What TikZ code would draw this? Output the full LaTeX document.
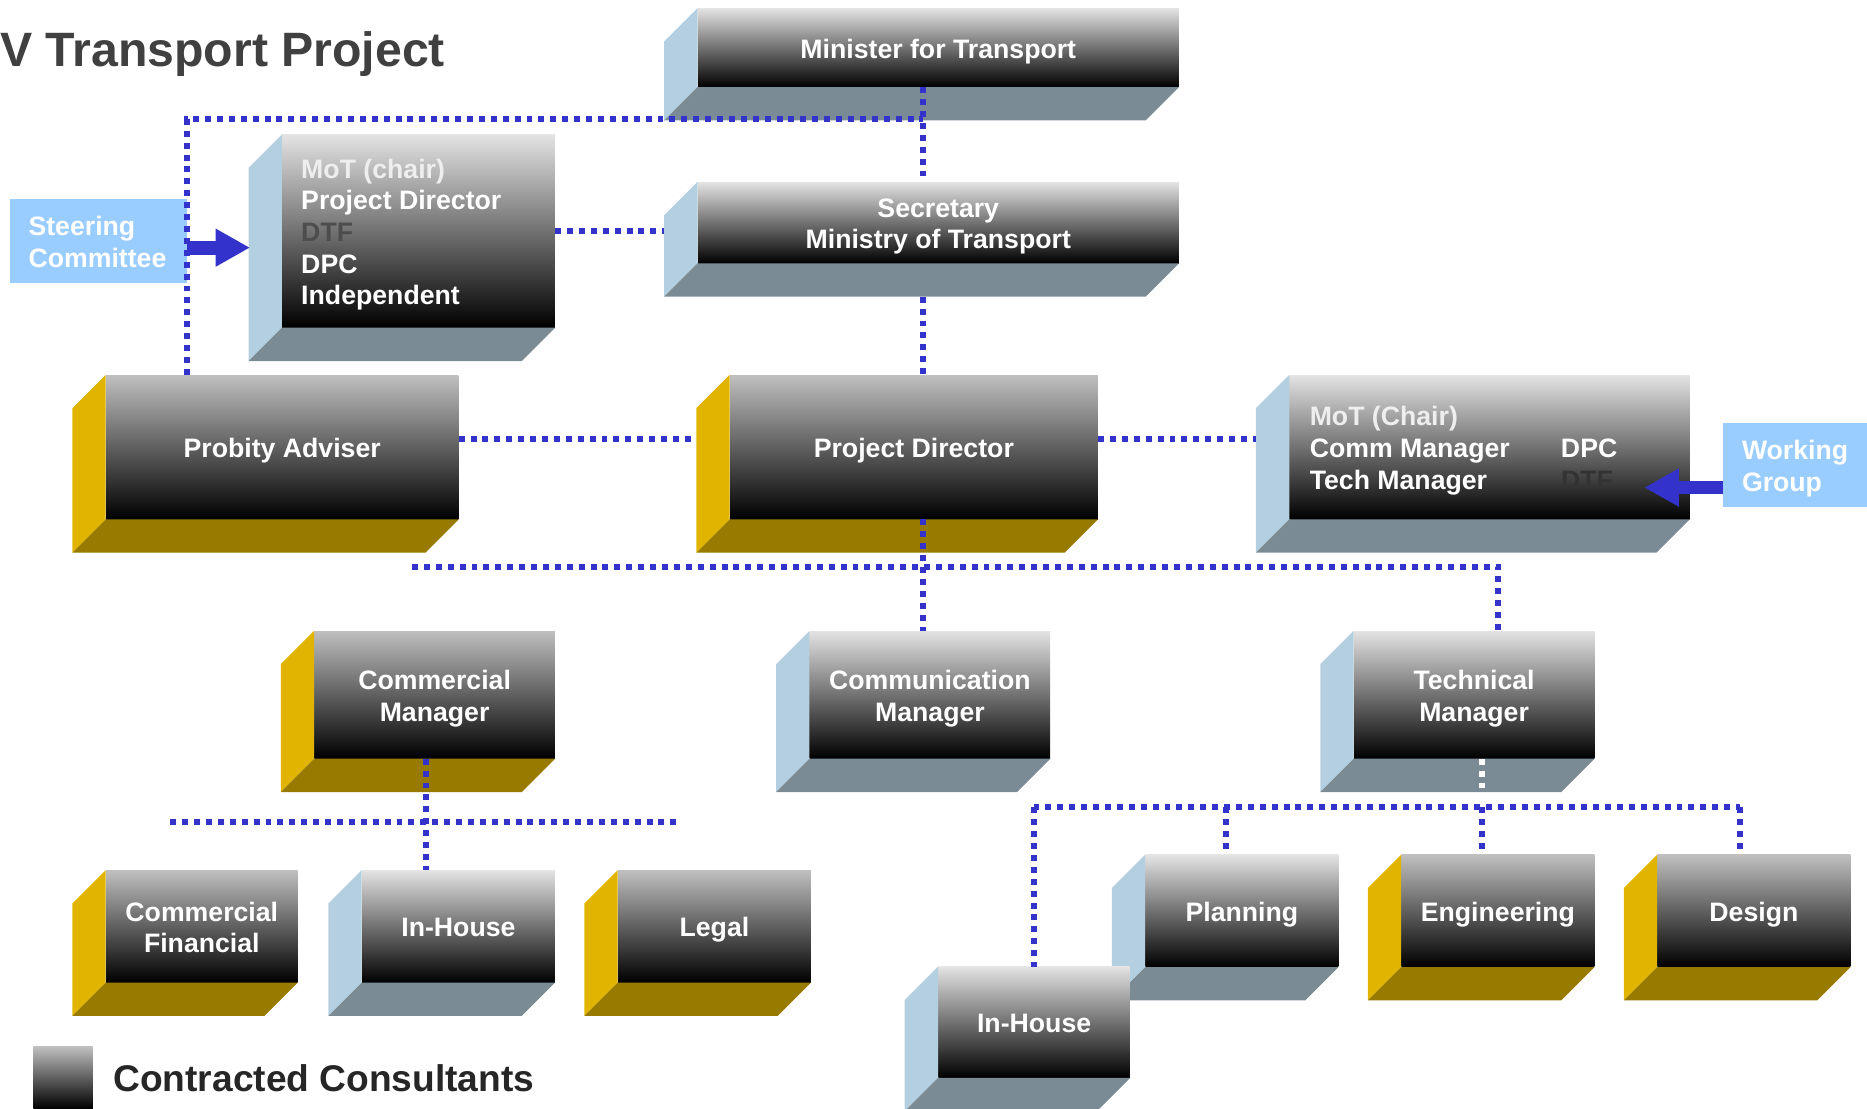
\documentclass[tikz,border=0pt]{standalone}
\usepackage{fontspec}
\setmainfont{Liberation Sans}
\usetikzlibrary{arrows.meta}

\definecolor{linkblue}{HTML}{3333CC}
\definecolor{blueside}{HTML}{B4CFE0}
\definecolor{bluebase}{HTML}{7A8B96}
\definecolor{goldside}{HTML}{E0B400}
\definecolor{goldbase}{HTML}{997A00}
\definecolor{labelblue}{HTML}{99CCFF}
\definecolor{titlegrey}{HTML}{404040}
\definecolor{paletext}{HTML}{EEEEEE}
\definecolor{dimtext}{HTML}{4D4D4D}
\definecolor{darktext}{HTML}{333333}

\newcommand{\boxfont}{\fontsize{22.4}{26.6}\selectfont\bfseries}
\newcommand{\lines}[2]{\raisebox{-3.5pt}[\height][\depth]{\begin{tabular}{@{}#1@{}}#2\end{tabular}}}

\tikzset{
  front/.style={inner sep=0pt, text=white, font=\boxfont, align=center},
  frontblue/.style={front, top color=gray!22, middle color=white!10!gray, bottom color=black},
  frontgold/.style={front, top color=gray!50, middle color=gray, bottom color=black},
  label/.style={fill=labelblue, text=white, font=\boxfont, inner xsep=16pt, inner ysep=0pt},
  link/.style={draw=linkblue, line width=5pt, dash pattern=on 5pt off 5pt},
  palelink/.style={link, draw=white},
  fatarrow/.style={draw=linkblue, line width=11.5pt, -{Triangle[length=29pt,width=30pt]}},
  title/.style={inner sep=0pt, text=titlegrey, font=\fontsize{40.5}{48}\selectfont\bfseries},
  swatch/.style={inner sep=0pt, minimum width=50pt, minimum height=52pt, top color=gray!50, bottom color=black},
  keytext/.style={inner sep=0pt, text=black!85, font=\fontsize{31.2}{37}\selectfont\bfseries}
}

\newcommand{\cubebox}[6]{%
  \node[front#5, minimum width=#3pt, minimum height=#4pt] (#1) at (#2) {\lines{c}{#6}};
  \fill[#5side] (#1.north west) -- ++(-28,28) -- ([shift={(-28,28)}]#1.south west) -- (#1.south west) -- cycle;
  \fill[#5base] (#1.south west) -- (#1.south east) -- ++(-28,28) -- ([shift={(-28,28)}]#1.south west) -- cycle;
}

\begin{document}
\begin{tikzpicture}[x=1pt,y=-1pt]
  \useasboundingbox (0,0) rectangle (1568,931);
  \clip (0,0) rectangle (1568,931);

  \node[title, anchor=base west] (title) at (0,56) {V Transport Project};

  \cubebox{minister}{788,40}{404}{66}{blue}{Minister for Transport}
  \cubebox{sc}{351.5,194}{229}{162}{blue}{\begin{tabular}{@{}p{197pt}@{}}
      \leavevmode\color{paletext}MoT (chair)\\ Project Director\\ \leavevmode\color{dimtext}DTF\\ DPC\\ Independent
    \end{tabular}}
  \cubebox{secretary}{788,187}{404}{68}{blue}{Secretary\\Ministry of Transport}
  \cubebox{probity}{237,375.5}{296}{121}{gold}{Probity Adviser}
  \cubebox{pd}{767.5,375.5}{309}{121}{gold}{Project Director}
  \cubebox{wg}{1251,375.5}{336}{121}{blue}{\begin{tabular}{@{}p{211pt}@{}p{91pt}@{}}
      \leavevmode\color{paletext}MoT (Chair) & \\ Comm Manager & DPC\\ Tech Manager & \leavevmode\color{darktext}DTF
    \end{tabular}}
  \cubebox{cm}{365,583.5}{202}{107}{gold}{Commercial\\Manager}
  \cubebox{comm}{781,583.5}{202}{107}{blue}{Communication\\Manager}
  \cubebox{tm}{1238,583.5}{202}{107}{blue}{Technical\\Manager}
  \cubebox{cf}{169.5,778}{161}{94}{gold}{Commercial\\Financial}
  \cubebox{ihl}{385,778}{162}{94}{blue}{In-House}
  \cubebox{legal}{600,778}{162}{94}{gold}{Legal}
  \cubebox{planning}{1043,765}{162}{94}{blue}{Planning}
  \cubebox{eng}{1258,765}{162}{94}{gold}{Engineering}
  \cubebox{design}{1473,765}{162}{94}{gold}{Design}
  \cubebox{ihr}{868.5,858.5}{161}{93}{blue}{In-House}

  \node[label, text width=117pt, minimum height=70pt] (steer) at (82.5,202.5) {\lines{l}{Steering\\Committee}};
  \node[label, text width=108pt, minimum height=70pt] (wglabel) at (1517,390.5) {\lines{l}{Working\\Group}};
  \coordinate (sctip) at (210,208);
  \coordinate (wgtip) at (1381,409.5);
  \draw[fatarrow] (steer.east |- sctip) -- (sctip);
  \draw[fatarrow] (wglabel.west |- wgtip) -- (wgtip);

  \node[swatch] (key) at (53,905) {};
  \node[keytext, anchor=base west] (keylabel) at (95,917) {Contracted Consultants};

  \coordinate (spine) at (775,0);
  \coordinate (elbow) at (157,100);
  \coordinate (midrow) at (0,369);
  \coordinate (secside) at ([xshift=-28pt]secretary.west);
  \coordinate (secbottom) at ([yshift=-28pt]secretary.south);
  \coordinate (pdside) at ([xshift=-28pt]pd.west);
  \coordinate (wgside) at ([xshift=-28pt]wg.west);
  \coordinate (busL) at (346,476);
  \coordinate (busR) at (1258,476);
  \coordinate (cmdrop) at (358,0);
  \coordinate (cmbusL) at (143,690);
  \coordinate (cmbusR) at (572,690);
  \coordinate (tmdrop) at (1245,0);
  \coordinate (tbusL) at (868,678);
  \coordinate (tbusR) at (1461,678);

  \draw[link] (spine |- minister.south) -- (spine |- secretary.north);
  \draw[link] (elbow |- probity.north) -- (elbow) -- (spine |- elbow);
  \draw[link] (sc.east) -- (sc.east -| secside);
  \draw[link] (spine |- secbottom) -- (spine |- pd.north);
  \draw[link] (probity.east |- midrow) -- (pdside |- midrow);
  \draw[link] (pd.east |- midrow) -- (wgside |- midrow);
  \draw[link] (spine |- pd.south) -- (spine |- comm.north);
  \draw[link] (busL) -- (busR) -- (busR |- tm.north);
  \draw[link] (cmdrop |- cm.south) -- (cmdrop |- ihl.north);
  \draw[link] (cmbusL) -- (cmbusR);
  \draw[palelink] (tmdrop |- tm.south) -- ++(0,28);
  \draw[link] (tbusL) -- (tbusR);
  \draw[link] (tbusL) -- (tbusL |- ihr.north);
  \foreach \n/\x in {planning/1030,eng/1245,design/1461}
    \draw[link] (\x,678) -- (\x,678 |- \n.north);
\end{tikzpicture}
\end{document}
